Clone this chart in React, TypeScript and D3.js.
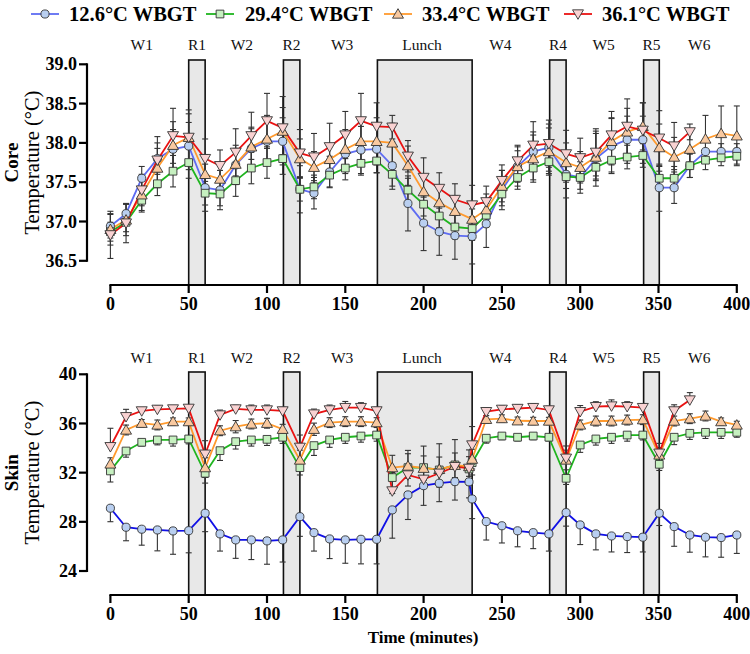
import React from 'react';
import * as d3 from 'd3';

// ---------- DATA ----------
const seriesNames = ['12.6°C WBGT', '29.4°C WBGT', '33.4°C WBGT', '36.1°C WBGT'];

const coreTimes = [0, 10, 20, 30, 40, 50, 60.5, 70, 80, 90, 100, 110, 121, 130, 140, 150, 160, 170, 180, 190, 200, 210, 220, 231, 240, 250, 260, 270, 280, 291, 300, 310, 320, 330, 340, 350.5, 360, 370, 380, 390, 400];
const skinTimes = [0, 10, 20, 30, 40, 50, 60.5, 70, 80, 90, 100, 110, 121, 130, 140, 150, 160, 170, 180, 190, 200, 210, 220, 229, 231, 240, 250, 260, 270, 280, 291, 300, 310, 320, 330, 340, 350.5, 360, 370, 380, 390, 400];

const core126 = [36.94, 37.10, 37.55, 37.80, 37.92, 37.96, 37.43, 37.40, 37.72, 37.93, 38.02, 38.02, 37.41, 37.36, 37.63, 37.86, 37.91, 37.92, 37.71, 37.23, 36.98, 36.87, 36.82, 36.81, 36.97, 37.40, 37.70, 37.89, 37.94, 37.60, 37.56, 37.80, 37.96, 38.04, 38.04, 37.43, 37.43, 37.71, 37.89, 37.89, 37.89];
const core294 = [36.87, 36.99, 37.27, 37.48, 37.64, 37.75, 37.36, 37.35, 37.52, 37.68, 37.75, 37.80, 37.41, 37.44, 37.59, 37.68, 37.74, 37.77, 37.60, 37.40, 37.22, 37.07, 36.93, 36.91, 37.08, 37.35, 37.56, 37.68, 37.76, 37.57, 37.56, 37.69, 37.78, 37.82, 37.84, 37.55, 37.55, 37.71, 37.78, 37.81, 37.83];
const core334 = [36.90, 37.02, 37.34, 37.68, 37.97, 38.07, 37.60, 37.54, 37.73, 37.95, 38.05, 38.15, 37.80, 37.69, 37.79, 37.92, 38.02, 38.02, 38.00, 37.71, 37.38, 37.24, 37.13, 37.03, 37.15, 37.45, 37.70, 37.80, 37.89, 37.75, 37.69, 37.82, 38.02, 38.14, 38.21, 37.94, 37.82, 37.92, 38.05, 38.12, 38.09];
const core361 = [36.83, 36.98, 37.40, 37.78, 38.09, 38.07, 37.80, 37.71, 37.88, 38.09, 38.28, 38.19, 37.87, 37.82, 37.95, 38.10, 38.28, 38.21, 38.20, 37.83, 37.56, 37.42, 37.28, 37.21, 37.25, 37.52, 37.77, 37.97, 37.99, 37.86, 37.81, 37.88, 38.10, 38.21, 38.16, 38.06, 37.96, 38.14];

const coreErr126 = [0.15, 0.12, 0.15, 0.2, 0.25, 0.3, 0.3, 0.25, 0.25, 0.25, 0.3, 0.3, 0.3, 0.2, 0.2, 0.25, 0.3, 0.3, 0.3, 0.35, 0.35, 0.3, 0.3, 0.35, 0.3, 0.25, 0.2, 0.25, 0.3, 0.3, 0.2, 0.35, 0.35, 0.3, 0.3, 0.3, 0.2, 0.15, 0.12, 0.1, 0.1];
const coreErr294 = [0.12, 0.12, 0.15, 0.15, 0.2, 0.2, 0.15, 0.15, 0.2, 0.2, 0.2, 0.2, 0.15, 0.15, 0.15, 0.15, 0.15, 0.15, 0.15, 0.15, 0.15, 0.15, 0.15, 0.15, 0.15, 0.15, 0.15, 0.15, 0.15, 0.15, 0.15, 0.15, 0.15, 0.15, 0.15, 0.15, 0.15, 0.15, 0.12, 0.1, 0.1];
const coreErr334 = [0.2, 0.2, 0.2, 0.25, 0.3, 0.3, 0.25, 0.2, 0.2, 0.25, 0.3, 0.3, 0.25, 0.2, 0.2, 0.25, 0.3, 0.3, 0.25, 0.25, 0.2, 0.2, 0.2, 0.2, 0.2, 0.2, 0.25, 0.3, 0.3, 0.25, 0.2, 0.3, 0.3, 0.3, 0.3, 0.3, 0.25, 0.25, 0.3, 0.35, 0.38];
const coreErr361 = [0.3, 0.25, 0.2, 0.3, 0.35, 0.35, 0.25, 0.2, 0.3, 0.3, 0.35, 0.4, 0.3, 0.3, 0.3, 0.3, 0.35, 0.3, 0.15, 0.2, 0.25, 0.2, 0.2, 0.25, 0.2, 0.2, 0.2, 0.3, 0.3, 0.3, 0.25, 0.3, 0.3, 0.35, 0.35, 0.35, 0.3, 0.1];

const skin126 = [29.11, 27.56, 27.40, 27.34, 27.26, 27.28, 28.70, 27.02, 26.53, 26.53, 26.45, 26.53, 28.42, 27.12, 26.61, 26.53, 26.58, 26.58, 28.97, 30.19, 30.94, 31.14, 31.27, 31.25, 29.86, 28.02, 27.68, 27.27, 27.12, 27.02, 28.75, 27.75, 27.02, 26.85, 26.80, 26.75, 28.70, 27.61, 26.93, 26.75, 26.72, 26.93];
const skin294 = [32.14, 33.76, 34.47, 34.66, 34.66, 34.74, 31.95, 33.79, 34.52, 34.66, 34.71, 34.88, 32.41, 34.20, 34.66, 34.88, 34.98, 35.06, 31.60, 32.41, 32.41, 32.22, 32.63, 32.30, 32.81, 34.80, 34.98, 34.88, 34.98, 34.88, 31.54, 34.25, 34.74, 34.88, 35.06, 35.06, 32.68, 34.88, 35.20, 35.28, 35.28, 35.28];
const skin334 = [32.71, 35.47, 36.02, 35.88, 36.15, 36.15, 32.41, 35.41, 35.74, 35.96, 36.02, 35.53, 33.03, 35.53, 36.07, 36.15, 36.15, 36.07, 32.41, 32.54, 32.36, 32.27, 32.60, 32.50, 33.10, 36.34, 36.40, 36.22, 36.20, 36.20, 33.03, 35.88, 36.20, 36.20, 36.28, 36.31, 33.44, 36.20, 36.39, 36.61, 36.15, 35.88];
const skin361 = [34.11, 36.55, 37.02, 37.15, 37.18, 37.23, 33.50, 36.69, 37.18, 37.10, 37.10, 37.02, 34.06, 36.77, 37.10, 37.29, 37.29, 37.02, 30.51, 31.81, 31.46, 31.95, 32.49, 32.35, 34.25, 36.96, 37.15, 37.22, 37.29, 37.10, 33.17, 36.96, 37.37, 37.42, 37.37, 37.29, 33.58, 37.02, 37.91];

const skinErr126 = [1.1, 1.1, 1.3, 1.7, 1.9, 1.8, 1.5, 1.4, 1.5, 1.6, 1.9, 1.8, 1.6, 1.5, 1.6, 1.9, 2.0, 2.0, 2.3, 2.0, 1.6, 1.5, 1.5, 1.3, 1.6, 1.5, 1.4, 1.3, 1.3, 1.4, 1.1, 1.6, 1.3, 1.3, 1.3, 1.2, 1.0, 1.6, 1.4, 1.6, 1.6, 1.5];
const skinErr294 = [0.9, 0.5, 0.3, 0.4, 0.5, 0.4, 0.8, 0.8, 0.6, 0.5, 0.5, 0.5, 0.6, 0.8, 0.6, 0.5, 0.5, 0.5, 1.3, 1.5, 1.5, 1.4, 1.6, 1.3, 1.0, 0.4, 0.3, 0.3, 0.3, 0.3, 0.5, 0.6, 0.5, 0.5, 0.5, 0.4, 0.5, 0.6, 0.5, 0.5, 0.5, 0.4];
const skinErr334 = [0.5, 0.4, 0.3, 0.4, 0.3, 0.3, 0.8, 0.4, 0.5, 0.4, 0.4, 0.4, 0.8, 0.5, 0.4, 0.4, 0.4, 0.4, 1.0, 1.0, 1.0, 1.0, 1.0, 0.8, 0.8, 0.3, 0.3, 0.3, 0.3, 0.3, 0.8, 0.4, 0.4, 0.4, 0.4, 0.4, 0.6, 0.4, 0.4, 0.4, 0.3, 0.3];
const skinErr361 = [1.5, 0.6, 0.2, 0.3, 0.2, 0.2, 1.1, 0.4, 0.3, 0.4, 0.4, 0.3, 1.0, 0.4, 0.4, 0.5, 0.4, 0.3, 1.5, 2.0, 2.7, 2.4, 2.2, 1.5, 1.5, 0.3, 0.3, 0.3, 0.3, 0.3, 1.0, 0.5, 0.4, 0.5, 0.4, 0.3, 0.8, 0.5, 0.6];

const periodLabels = ['W1', 'R1', 'W2', 'R2', 'W3', 'Lunch', 'W4', 'R4', 'W5', 'R5', 'W6'];
const periodLabelTimes = [20, 55.3, 84, 115.7, 148, 199, 249, 285.8, 315, 345.5, 376];
const shadedStarts = [50, 110.5, 170.5, 280.5, 340.5];
const shadedEnds = [60.5, 121, 231, 291, 350.5];

const xTicks = [0, 50, 100, 150, 200, 250, 300, 350, 400];
const coreTicks = [36.5, 37.0, 37.5, 38.0, 38.5, 39.0];
const skinTicks = [24, 28, 32, 36, 40];

// ---------- STYLE ----------
const FONT = '"Liberation Serif", "Times New Roman", serif';
const markerTypes = ['circle', 'square', 'up', 'down'];
const markerFills = ['#b9cff0', '#c6f0c0', '#f9c9a0', '#f9d2d2'];
const coreLineColors = ['#5e6cf2', '#1fb51f', '#ff9a2e', '#ea1212'];
const skinLineColors = ['#1010e6', '#1fb51f', '#ff9a2e', '#ea1212'];
// error direction per series in skin panel: -1 down, 1 up, 0 both
const skinErrDir = [-1, -1, 0, 1];

function symbolPath(type: string) {
  if (type === 'circle') return d3.symbol(d3.symbolCircle, 52)()!;
  if (type === 'square') return d3.symbol(d3.symbolSquare, 60)()!;
  return d3.symbol(d3.symbolTriangle, 52)()!;
}

function Marker({ type, x, y, fill }: { type: string; x: number; y: number; fill: string }) {
  const rot = type === 'down' ? 180 : 0;
  const dy = type === 'up' ? 1 : type === 'down' ? -1 : 0;
  return (
    <path
      d={symbolPath(type)}
      transform={`translate(${x},${y + dy}) rotate(${rot})`}
      fill={fill}
      stroke="#333"
      strokeWidth={0.9}
    />
  );
}

type Panel = {
  times: number[];
  values: number[][];
  errs: number[][];
  errDir: number[];
  lineColors: string[];
  yDomain: [number, number];
  yRange: [number, number];
  yTicks: number[];
  tickFmt: (v: number) => string;
  axisY: number;
  boxTop: number;
  labelY: number;
  title1: string;
  title2: string;
};

const xScale = d3.scaleLinear().domain([0, 400]).range([110.4, 736.8]);
const AXIS_X = 87;

function PanelView({ p }: { p: Panel }) {
  const y = d3.scaleLinear().domain(p.yDomain).range(p.yRange);
  const yMid = (p.yRange[0] + p.yRange[1]) / 2;
  return (
    <g>
      {shadedStarts.map((s, i) => (
        <rect
          key={'b' + i}
          x={xScale(s)}
          y={p.boxTop}
          width={xScale(shadedEnds[i]) - xScale(s)}
          height={p.axisY - p.boxTop}
          fill="#e8e8e8"
          stroke="#111"
          strokeWidth={1.6}
        />
      ))}
      {periodLabels.map((l, i) => (
        <text key={'l' + i} x={xScale(periodLabelTimes[i])} y={p.labelY} textAnchor="middle" fontFamily={FONT} fontSize={15.5} fill="#111">
          {l}
        </text>
      ))}
      {p.values.map((vals, si) =>
        vals.map((v, i) => {
          const e = p.errs[si][i];
          const dir = p.errDir[si];
          const top = dir >= 0 ? v + e : v;
          const bot = dir <= 0 ? v - e : v;
          const x = xScale(p.times[i]);
          const caps: number[] = [];
          if (dir >= 0) caps.push(top);
          if (dir <= 0) caps.push(bot);
          return (
            <g key={`e${si}-${i}`} stroke="#333" strokeWidth={1.1}>
              <line x1={x} x2={x} y1={y(top)} y2={y(bot)} />
              {caps.map((c, k) => (
                <line key={k} x1={x - 3} x2={x + 3} y1={y(c)} y2={y(c)} />
              ))}
            </g>
          );
        })
      )}
      {p.values.map((vals, si) => {
        const line = d3
          .line<number>()
          .x((_, i) => xScale(p.times[i]))
          .y((d) => y(d));
        return <path key={'p' + si} d={line(vals)!} fill="none" stroke={p.lineColors[si]} strokeWidth={1.8} />;
      })}
      {p.values.map((vals, si) =>
        vals.map((v, i) => (
          <Marker key={`m${si}-${i}`} type={markerTypes[si]} x={xScale(p.times[i])} y={y(v)} fill={markerFills[si]} />
        ))
      )}
      <line x1={xScale(0) - 1} x2={xScale(400) + 1} y1={p.axisY} y2={p.axisY} stroke="#000" strokeWidth={2.2} />
      {xTicks.map((t) => (
        <g key={'xt' + t}>
          <line x1={xScale(t)} x2={xScale(t)} y1={p.axisY} y2={p.axisY + 8} stroke="#000" strokeWidth={2.2} />
          <text x={xScale(t)} y={p.axisY + 25} textAnchor="middle" fontFamily={FONT} fontWeight="bold" fontSize={18} fill="#000">
            {t}
          </text>
        </g>
      ))}
      <line x1={AXIS_X} x2={AXIS_X} y1={p.yRange[1] - 1} y2={p.yRange[0] + 1} stroke="#000" strokeWidth={2.2} />
      {p.yTicks.map((t) => (
        <g key={'yt' + t}>
          <line x1={AXIS_X - 8} x2={AXIS_X} y1={y(t)} y2={y(t)} stroke="#000" strokeWidth={2.2} />
          <text x={AXIS_X - 10} y={y(t)} dy="0.34em" textAnchor="end" fontFamily={FONT} fontWeight="bold" fontSize={18} fill="#000">
            {p.tickFmt(t)}
          </text>
        </g>
      ))}
      <text transform={`translate(11,${yMid}) rotate(-90)`} textAnchor="middle" dy="0.35em" fontFamily={FONT} fontWeight="bold" fontSize={19} fill="#000">
        {p.title1}
      </text>
      <text transform={`translate(32,${yMid}) rotate(-90)`} textAnchor="middle" dy="0.35em" fontFamily={FONT} fontSize={20.5} fill="#000">
        {p.title2}
      </text>
    </g>
  );
}

export default function App() {
  const corePanel: Panel = {
    times: coreTimes,
    values: [core126, core294, core334, core361],
    errs: [coreErr126, coreErr294, coreErr334, coreErr361],
    errDir: [0, 0, 0, 0],
    lineColors: coreLineColors,
    yDomain: [36.5, 39],
    yRange: [260.8, 64.3],
    yTicks: coreTicks,
    tickFmt: (v) => v.toFixed(1),
    axisY: 285,
    boxTop: 60,
    labelY: 50,
    title1: 'Core',
    title2: 'Temperature (°C)',
  };
  const skinPanel: Panel = {
    times: skinTimes,
    values: [skin126, skin294, skin334, skin361],
    errs: [skinErr126, skinErr294, skinErr334, skinErr361],
    errDir: skinErrDir,
    lineColors: skinLineColors,
    yDomain: [24, 40],
    yRange: [571, 374.3],
    yTicks: skinTicks,
    tickFmt: (v) => String(v),
    axisY: 595,
    boxTop: 372,
    labelY: 363,
    title1: 'Skin',
    title2: 'Temperature (°C)',
  };

  const legendMarkerX = [45, 220, 398, 578];
  const legendTextX = [69, 245, 422, 602];

  return (
    <svg width={750} height={654} style={{ position: 'absolute', left: 0, top: 0, background: '#fff' }}>
      <rect width={750} height={654} fill="#fff" />
      {seriesNames.map((n, i) => (
        <g key={'lg' + i}>
          <line x1={legendMarkerX[i] - 14} x2={legendMarkerX[i] + 14} y1={14} y2={14} stroke={coreLineColors[i]} strokeWidth={1.8} />
          <Marker type={markerTypes[i]} x={legendMarkerX[i]} y={14} fill={markerFills[i]} />
          <text x={legendTextX[i]} y={14} dy="0.35em" fontFamily={FONT} fontWeight="bold" fontSize={20.5} fill="#000">
            {n}
          </text>
        </g>
      ))}
      <PanelView p={corePanel} />
      <PanelView p={skinPanel} />
      <text x={423} y={643} textAnchor="middle" fontFamily={FONT} fontWeight="bold" fontSize={17} fill="#000">
        Time (minutes)
      </text>
    </svg>
  );
}
